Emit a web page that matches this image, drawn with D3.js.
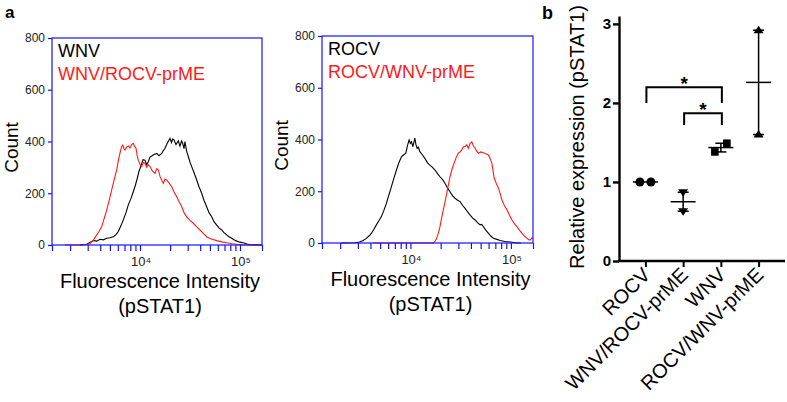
<!DOCTYPE html>
<html><head><meta charset="utf-8">
<script src="https://cdn.jsdelivr.net/npm/d3@7"></script>
<style>body{margin:0;background:#fff}svg{display:block;font-family:"Liberation Sans",Arial,Helvetica,sans-serif}</style>
</head><body><svg id="c" width="787" height="402"></svg>
<script>
// ---------------- DATA ----------------
// Panel a: flow histograms (x = log10 fluorescence intensity, y = count)
const countTicks = [0, 200, 400, 600, 800];
const decadeTicks = [1e4, 1e5];
const decadeLabels = ["10\u2074", "10\u2075"];
const minorTicks = [2e3, 3e3, 4e3, 5e3, 6e3, 7e3, 8e3, 9e3, 2e4, 3e4, 4e4, 5e4, 6e4, 7e4, 8e4, 9e4];
const intensityRangeLog = [3.12, 5.22];
const countRange = [0, 800];
const legendLeft = ["WNV", "WNV/ROCV-prME"];
const legendRight = ["ROCV", "ROCV/WNV-prME"];

const wnvLog = [3.40,3.467,3.50,3.533,3.567,3.60,3.633,3.667,3.70,3.733,3.76,3.783,3.81,3.833,3.86,3.883,3.91,3.933,3.953,3.973,3.99,4.007,4.03,4.05,4.067,4.083,4.10,4.117,4.14,4.167,4.19,4.217,4.233,4.25,4.275,4.30,4.315,4.327,4.34,4.36,4.383,4.40,4.415,4.427,4.44,4.45,4.465,4.483,4.50,4.517,4.54,4.567,4.59,4.617,4.64,4.667,4.69,4.717,4.74,4.767,4.79,4.817,4.84,4.867,4.89,4.917,4.94,4.967,5.00,5.033,5.07,5.10,5.22];
const wnvCount = [0,3,10,17,15,22,20,26,28,32,40,52,75,97,125,155,180,206,230,258,285,303,330,328,310,322,340,344,350,354,345,354,365,374,395,412,396,410,406,388,403,382,402,393,372,400,365,342,320,303,280,251,225,200,172,148,125,109,90,77,66,58,48,39,32,26,20,15,11,9,4,1,0];

const wnvChimLog = [3.25,3.40,3.467,3.50,3.533,3.567,3.59,3.617,3.64,3.667,3.69,3.717,3.74,3.767,3.785,3.80,3.815,3.827,3.84,3.85,3.865,3.883,3.90,3.915,3.933,3.947,3.96,3.972,3.983,4.0,4.017,4.033,4.05,4.067,4.083,4.10,4.125,4.15,4.167,4.183,4.20,4.217,4.233,4.25,4.267,4.29,4.317,4.34,4.367,4.39,4.417,4.44,4.467,4.50,4.533,4.567,4.60,4.633,4.667,4.70,4.767,4.82,4.867,4.92,4.967,5.03,5.10,5.22];
const wnvChimCount = [0,0,2,6,18,39,52,71,100,135,170,213,250,290,330,355,380,386,372,367,378,383,375,388,393,380,374,345,328,312,303,320,316,300,310,303,285,277,295,290,265,250,238,255,251,240,225,205,187,168,148,125,109,95,84,70,58,45,32,25,17,12,9,5,3,1,0,0];

const rocvLog = [3.311,3.45,3.494,3.53,3.561,3.59,3.611,3.635,3.661,3.685,3.711,3.735,3.761,3.785,3.811,3.835,3.861,3.885,3.911,3.93,3.954,3.97,3.987,4.0,4.011,4.025,4.044,4.055,4.067,4.08,4.094,4.12,4.144,4.17,4.194,4.22,4.244,4.27,4.294,4.32,4.344,4.37,4.394,4.42,4.444,4.47,4.494,4.52,4.544,4.57,4.594,4.62,4.644,4.67,4.694,4.71,4.727,4.75,4.777,4.80,4.827,4.86,4.894,4.94,4.994,5.061,5.10];
const rocvCount = [0,1,4,10,18,28,37,52,70,85,102,125,153,185,218,250,282,310,333,340,347,375,398,385,391,372,405,380,366,370,353,340,327,310,301,292,282,268,256,245,231,212,198,182,173,165,160,145,134,120,108,96,89,78,70,72,63,50,37,27,18,14,10,6,4,0,0];

const rocvChimLog = [3.627,4.227,4.245,4.261,4.278,4.294,4.31,4.327,4.345,4.361,4.378,4.394,4.414,4.434,4.455,4.477,4.494,4.511,4.528,4.544,4.56,4.577,4.594,4.611,4.627,4.644,4.66,4.677,4.70,4.727,4.75,4.777,4.795,4.811,4.822,4.834,4.855,4.877,4.894,4.911,4.935,4.961,4.985,5.011,5.035,5.061,5.085,5.111,5.135,5.161,5.18,5.194,5.21,5.224];
const rocvChimCount = [0,0,6,18,38,63,95,128,160,192,225,256,285,308,330,347,352,360,372,372,380,366,385,391,375,366,355,347,352,349,345,340,325,308,280,250,230,211,190,166,145,128,108,89,75,63,50,37,27,18,12,12,20,18];

// Panel b: relative expression (pSTAT1)
const groups = ["ROCV", "WNV/ROCV-prME", "WNV", "ROCV/WNV-prME"];
const relROCV = [1.0, 1.0];
const relWNVChim = [0.87, 0.63];
const relWNV = [1.38, 1.49];
const relROCVChim = [2.92, 1.60];
const relTicks = [0, 1, 2, 3];
const relMax = 3.1;
const sigPairs = [["ROCV", "WNV"], ["WNV/ROCV-prME", "WNV"]];
const sigTop = [2.2, 1.87];
const sigLeg = [2.0, 1.72];
const sigLabels = ["*", "*"];

// ---------------- DRAW ----------------
const svg = d3.select("#c");
const BLUE = "#1414ff", RED = "#ff1a1a";

svg.append("text").attr("x", 5).attr("y", 18).attr("font-size", 17).attr("font-weight", "bold").text("a");
svg.append("text").attr("x", 542).attr("y", 19).attr("font-size", 18).attr("font-weight", "bold").text("b");

function histPanel(opt) {
  const g = svg.append("g");
  const x = d3.scaleLog().domain(intensityRangeLog.map(v => Math.pow(10, v))).range([opt.left, opt.right]);
  const y = d3.scaleLinear().domain(countRange).range([opt.bottom, opt.top]);
  const id = "clip" + opt.left;
  svg.append("clipPath").attr("id", id).append("rect")
    .attr("x", opt.left).attr("y", opt.top).attr("width", opt.right - opt.left).attr("height", opt.bottom - opt.top + 1);

  const line = d3.line().x(d => x(Math.pow(10, d[0]))).y(d => y(d[1]));
  opt.series.forEach(s => {
    g.append("path").datum(d3.zip(s.xs, s.ys)).attr("clip-path", `url(#${id})`)
      .attr("fill", "none").attr("stroke", s.color).attr("stroke-width", 1.1).attr("d", line);
  });

  // frame
  g.append("rect").attr("x", opt.left).attr("y", opt.top).attr("width", opt.right - opt.left).attr("height", opt.bottom - opt.top)
    .attr("fill", "none").attr("stroke", BLUE).attr("stroke-width", 1.2);

  // x axis ticks
  const ax = g.append("g").attr("transform", `translate(0,${opt.bottom})`)
    .call(d3.axisBottom(x).tickValues(minorTicks.concat(decadeTicks, x.domain())).tickSize(6).tickFormat(""));
  ax.select(".domain").remove();
  ax.selectAll(".tick line").attr("stroke", BLUE).attr("stroke-width", 1.2);
  decadeTicks.forEach((v, i) => {
    g.append("text").attr("x", x(v) + 1).attr("y", opt.bottom + 21).attr("text-anchor", "middle")
      .attr("font-size", 13).attr("fill", "#222").text(decadeLabels[i]);
  });

  // y axis
  const ay = g.append("g").attr("transform", `translate(${opt.left},0)`)
    .call(d3.axisLeft(y).tickValues(countTicks).tickSize(4).tickPadding(3));
  ay.select(".domain").remove();
  ay.selectAll(".tick line").attr("stroke", BLUE).attr("stroke-width", 1.2);
  ay.selectAll(".tick text").attr("font-size", 12).attr("fill", "#222").attr("font-family", null);

  // labels
  g.append("text").attr("transform", `translate(${opt.left - 34},${(opt.top + opt.bottom) / 2 + 6}) rotate(-90)`)
    .attr("text-anchor", "middle").attr("font-size", 19).text("Count");
  const cx = (opt.left + opt.right) / 2 + 3;
  g.append("text").attr("x", cx).attr("y", opt.bottom + 43).attr("text-anchor", "middle").attr("font-size", 20).text("Fluorescence Intensity");
  g.append("text").attr("x", cx).attr("y", opt.bottom + 68).attr("text-anchor", "middle").attr("font-size", 20).text("(pSTAT1)");

  // legend
  opt.legend.forEach((t, i) => {
    g.append("text").attr("x", opt.left + 6).attr("y", opt.top + 19 + i * 23).attr("font-size", 18)
      .attr("fill", i === 0 ? "#000" : RED).text(t);
  });
}

histPanel({left: 52, right: 262, top: 38, bottom: 245, legend: legendLeft,
  series: [{xs: wnvLog, ys: wnvCount, color: "#000"}, {xs: wnvChimLog, ys: wnvChimCount, color: RED}]});
histPanel({left: 322, right: 533, top: 36, bottom: 243, legend: legendRight,
  series: [{xs: rocvLog, ys: rocvCount, color: "#000"}, {xs: rocvChimLog, ys: rocvChimCount, color: RED}]});

// ---------------- Panel b ----------------
const gb = svg.append("g");
const xb = d3.scalePoint().domain(groups).range([619, 785]).padding(0.7);
const yb = d3.scaleLinear().domain([0, relMax]).range([261, 16]);

const ayb = gb.append("g").attr("transform", "translate(619,0)")
  .call(d3.axisLeft(yb).tickValues(relTicks).tickSize(6).tickSizeOuter(0).tickPadding(2).tickFormat(d3.format("d")));
ayb.select(".domain").attr("stroke-width", 2.4);
ayb.selectAll(".tick line").attr("stroke-width", 2.4);
ayb.selectAll(".tick text").attr("font-size", 15).attr("font-weight", "bold").attr("font-family", null).attr("fill", "#000");

const axb = gb.append("g").attr("transform", "translate(0,261)")
  .call(d3.axisBottom(xb).tickSize(6).tickSizeOuter(0).tickFormat(""));
axb.select(".domain").attr("stroke-width", 2.4).attr("d", "M618,0H785");
axb.selectAll(".tick line").attr("stroke-width", 2);
groups.forEach(gname => {
  gb.append("text").attr("transform", `translate(${xb(gname) + 6},276) rotate(-45)`)
    .attr("text-anchor", "end").attr("font-size", 20).text(gname);
});

gb.append("text").attr("transform", "translate(584,137) rotate(-90)").attr("text-anchor", "middle")
  .attr("font-size", 20).text("Relative expression (pSTAT1)");

const sets = [
  {name: "ROCV", vals: relROCV, shape: "circle", dx: [-5.5, 5.5]},
  {name: "WNV/ROCV-prME", vals: relWNVChim, shape: "tridown", dx: [0, 0]},
  {name: "WNV", vals: relWNV, shape: "square", dx: [-6, 6]},
  {name: "ROCV/WNV-prME", vals: relROCVChim, shape: "triup", dx: [0, 0]}
];
sets.forEach(s => {
  const cx = xb(s.name);
  const m = d3.mean(s.vals);
  const sem = d3.deviation(s.vals) / Math.sqrt(s.vals.length);
  if (sem > 0) {
    gb.append("line").attr("x1", cx).attr("x2", cx).attr("y1", yb(m - sem)).attr("y2", yb(m + sem)).attr("stroke", "#000").attr("stroke-width", 1.5);
    [m - sem, m + sem].forEach(v => gb.append("line").attr("x1", cx - 5.5).attr("x2", cx + 5.5).attr("y1", yb(v)).attr("y2", yb(v)).attr("stroke", "#000").attr("stroke-width", 1.5));
  }
  s.vals.forEach((v, i) => {
    const px = cx + s.dx[i], py = yb(v);
    if (s.shape === "circle") gb.append("circle").attr("cx", px).attr("cy", py).attr("r", 4.5);
    else if (s.shape === "square") gb.append("rect").attr("x", px - 3.8).attr("y", py - 3.8).attr("width", 7.6).attr("height", 7.6);
    else if (s.shape === "triup") gb.append("path").attr("d", `M${px},${py - 4.5}L${px + 5},${py + 3}L${px - 5},${py + 3}Z`);
    else gb.append("path").attr("d", `M${px},${py + 4.5}L${px + 5},${py - 3}L${px - 5},${py - 3}Z`);
  });
  gb.append("line").attr("x1", cx - 12.5).attr("x2", cx + 12.5).attr("y1", yb(m)).attr("y2", yb(m)).attr("stroke", "#000").attr("stroke-width", 1.5);
});

// significance brackets
sigPairs.forEach((p, i) => {
  const x1 = xb(p[0]) + 1, x2 = xb(p[1]) + 1;
  gb.append("path").attr("fill", "none").attr("stroke", "#000").attr("stroke-width", 2)
    .attr("d", `M${x1},${yb(sigLeg[i])}V${yb(sigTop[i])}H${x2}V${yb(sigLeg[i])}`);
  gb.append("text").attr("x", (x1 + x2) / 2).attr("y", yb(sigTop[i]) + 3).attr("text-anchor", "middle")
    .attr("font-size", 19).attr("font-weight", "bold").text(sigLabels[i]);
});
</script></body></html>
